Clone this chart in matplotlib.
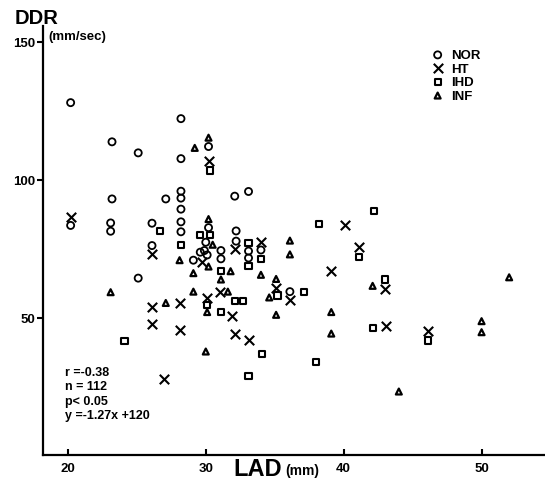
import matplotlib
matplotlib.use("Agg")
import matplotlib.pyplot as plt

# LAD (mm) vs DDR (mm/sec)
nor_lad = [20.2, 20.2, 23.2, 25.1, 28.2, 28.2, 30.2, 23.2, 27.1, 28.2, 28.2, 28.2,
           28.2, 28.2, 23.1, 23.1, 26.1, 30.2, 32.1, 33.1, 32.2, 32.2, 26.1, 25.1,
           29.1, 30.0, 29.9, 29.6, 30.1, 31.1, 31.1, 33.1, 33.1, 34.0, 36.1]
nor_ddr = [128.0, 83.5, 113.8, 109.8, 122.2, 107.7, 112.1, 93.1, 93.1, 95.9, 93.4, 89.4,
           84.8, 81.2, 84.4, 81.4, 84.3, 82.7, 94.1, 95.8, 81.5, 77.8, 76.2, 64.4,
           70.9, 77.4, 74.4, 73.8, 72.8, 74.4, 71.4, 74.2, 71.7, 74.6, 59.5]

ht_lad = [20.2, 30.2, 26.1, 26.1, 28.1, 26.1, 28.1, 27.0, 32.1, 34.0, 29.7, 35.1,
          36.1, 39.1, 40.1, 41.1, 43.0, 43.1, 46.1, 30.1, 31.0, 31.9, 32.1, 33.1]
ht_ddr = [86.6, 107.0, 73.2, 54.0, 55.4, 47.6, 45.5, 27.9, 75.0, 77.4, 70.4, 60.9,
          56.3, 67.0, 83.7, 75.8, 60.3, 46.9, 45.4, 57.2, 59.5, 50.8, 44.0, 42.1]

ihd_lad = [30.3, 26.7, 29.6, 30.3, 28.2, 24.1, 33.1, 33.1, 34.0, 38.2, 42.2, 41.1,
           31.1, 35.2, 37.1, 43.0, 42.1, 30.1, 31.1, 32.1, 32.7, 34.1, 38.0, 33.1, 46.1]
ihd_ddr = [103.4, 81.6, 80.1, 80.1, 76.4, 41.6, 77.1, 68.7, 71.4, 84.0, 88.7, 72.0,
           66.9, 58.1, 59.3, 63.9, 46.4, 54.8, 52.1, 56.2, 56.2, 37.0, 34.0, 28.9, 41.8]

inf_lad = [30.2, 29.2, 30.2, 28.1, 29.1, 29.1, 23.1, 27.1, 30.5, 30.2, 36.1, 36.1,
           31.8, 31.1, 34.0, 35.1, 34.6, 42.1, 39.1, 39.1, 31.6, 30.1, 35.1, 30.0,
           44.0, 50.0, 50.0, 52.0]
inf_ddr = [115.3, 111.6, 85.8, 70.9, 66.2, 59.5, 59.3, 55.4, 76.5, 68.6, 78.0, 73.0,
           66.9, 63.9, 65.6, 64.1, 57.4, 61.6, 52.1, 44.3, 59.5, 52.1, 51.1, 37.8,
           23.3, 48.8, 44.8, 64.7]

x_ticks = [20, 30, 40, 50]
y_ticks = [50, 100, 150]
stats = ["r =-0.38", "n = 112", "p< 0.05", "y =-1.27x +120"]

plt.rcParams["font.family"] = ["Liberation Sans", "DejaVu Sans"]
plt.rcParams["font.weight"] = "bold"

fig = plt.figure(figsize=(5.45, 4.81), dpi=100)
ax = fig.add_axes([0.079, 0.052, 0.921, 0.892])

h_nor = ax.scatter(nor_lad, nor_ddr, s=26, marker="o", facecolors="none",
                   edgecolors="black", linewidths=1.3, label="NOR")
h_ht = ax.scatter(ht_lad, ht_ddr, s=46, marker="x", color="black",
                  linewidths=1.5, label="HT")
h_ihd = ax.scatter(ihd_lad, ihd_ddr, s=20, marker="s", facecolors="none",
                   edgecolors="black", linewidths=1.5, label="IHD")
h_inf = ax.scatter(inf_lad, inf_ddr, s=18, marker="^", facecolors="none",
                   edgecolors="black", linewidths=1.6, label="INF")

ax.set_xlim(18.2, 54.6)
ax.set_ylim(0.3, 155.8)
ax.set_xticks(x_ticks)
ax.set_yticks(y_ticks)
ax.tick_params(axis="y", direction="out", length=4, width=1.5, pad=1.5, labelsize=9.5)
ax.tick_params(axis="x", direction="in", length=4, width=1.5, pad=5, labelsize=9.5)
for lbl in ax.get_xticklabels() + ax.get_yticklabels():
    lbl.set_fontweight("bold")

for side in ["top", "right"]:
    ax.spines[side].set_visible(False)
for side in ["left", "bottom"]:
    ax.spines[side].set_linewidth(1.6)

leg = ax.legend(handles=[h_nor, h_ht, h_ihd, h_inf], loc="upper left",
                bbox_to_anchor=(0.773, 0.946), frameon=False, borderpad=0,
                borderaxespad=0, handlelength=1.0, handletextpad=0.5,
                labelspacing=0.1, prop={"weight": "bold", "size": 9.5})

fig.text(0.027, 0.950, "DDR", fontsize=14.5, fontweight="bold", va="baseline")
fig.text(0.088, 0.917, "(mm/sec)", fontsize=9.5, fontweight="bold", va="baseline")

fig.text(0.428, 0.010, "LAD", fontsize=17, fontweight="bold", va="baseline")
fig.text(0.523, 0.012, "(mm)", fontsize=10, fontweight="bold", va="baseline")

fig.text(0.119, 0.237, "\n".join(stats), fontsize=9, fontweight="bold",
         va="top", ha="left", linespacing=1.27)

fig.savefig("out.png", dpi=100)
